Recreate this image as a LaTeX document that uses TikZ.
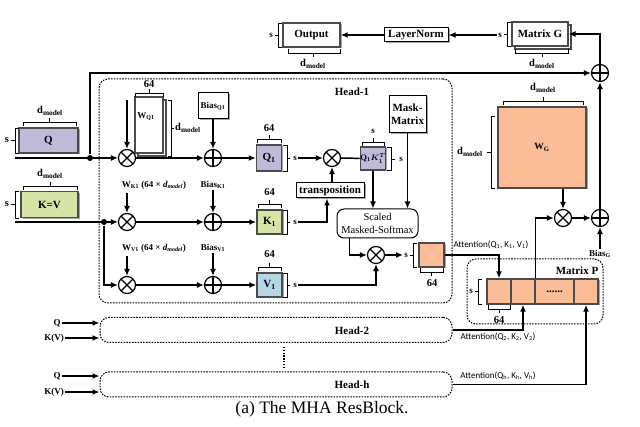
\documentclass[tikz,border=0pt]{standalone}
\usepackage{fontspec}
\usepackage{amsmath}
\setmainfont{Liberation Serif}
\newfontfamily\calibrifont{Carlito}
\usetikzlibrary{arrows.meta}

\definecolor{qfill}{RGB}{190,186,216}
\definecolor{kfill}{RGB}{215,228,168}
\definecolor{vfill}{RGB}{182,214,230}
\definecolor{afill}{RGB}{251,189,151}
\definecolor{matedge}{RGB}{75,75,75}

\newcommand{\dmodel}{d\textsubscript{model}}

\tikzset{every picture/.style={line width=1.5pt}}
\tikzset{
  shade drop/.style={preaction={fill=black, opacity=0.35, transform canvas={shift={(1.5,-1.5)}}}},
  mat/.style={draw=matedge, line width=1.4pt, inner sep=0pt, font=\fontsize{11}{13}\selectfont\bfseries, shade drop},
  stack/.style={draw=matedge, line width=1.2pt, inner sep=0pt, fill=white, font=\fontsize{11}{13}\selectfont\bfseries,
    preaction={draw=matedge, fill=white, line width=1.2pt, transform canvas={shift={(3,-3)}}}},
  lbl/.style={draw, line width=1pt, fill=white, inner sep=0pt, font=\fontsize{11}{13}\selectfont\bfseries, shade drop},
  dim/.style={inner sep=0.5pt, font=\fontsize{10.5}{12}\selectfont\bfseries},
  tiny/.style={inner sep=0.5pt, font=\fontsize{9}{11}\selectfont\bfseries},
  att/.style={inner sep=0.5pt, font=\calibrifont\fontsize{9}{11}\selectfont},
  brk/.style={line width=0.9pt},
  arr/.style={-{Latex[length=7pt,width=6pt]}, line width=1.5pt},
  wire/.style={line width=1.5pt},
  head/.style={draw, dash pattern=on 1.6pt off 1.2pt, line width=1pt, rounded corners=9pt, inner sep=0pt},
  dot/.style={circle, fill, inner sep=0pt, minimum size=6pt},
  mult/.style={circle, draw, line width=1.2pt, minimum size=17pt, inner sep=0pt, fill=white,
    path picture={\draw[line width=1.2pt] (path picture bounding box.north west) -- (path picture bounding box.south east)
      (path picture bounding box.north east) -- (path picture bounding box.south west);}},
  plus/.style={circle, draw, line width=1.2pt, minimum size=17pt, inner sep=0pt, fill=white,
    path picture={\draw[line width=1.2pt] (path picture bounding box.north) -- (path picture bounding box.south)
      (path picture bounding box.west) -- (path picture bounding box.east);}},
}

\begin{document}
\begin{tikzpicture}[x=1pt,y=1pt,yscale=-1]
\useasboundingbox (0,0) rectangle (640,427);

% heads
\node[head, minimum width=353pt, minimum height=224pt] (head1) at (275.5,191) {};
\node[head, minimum width=352pt, minimum height=25pt] (head2) at (276,330) {};
\node[head, minimum width=352pt, minimum height=25pt] (headh) at (276,384.5) {};
\node[head, minimum width=136pt, minimum height=65pt] (Pbox) at (535,291.5) {};
\node[font=\fontsize{11}{13}\selectfont\bfseries] (h1lbl) at (352,92) {Head-1};
\node[font=\fontsize{11}{13}\selectfont\bfseries] (h2lbl) at (352,331) {Head-2};
\node[font=\fontsize{11}{13}\selectfont\bfseries] (hhlbl) at (352,385) {Head-h};
\node[font=\fontsize{11}{13}\selectfont\bfseries] (Plbl) at (577,271) {Matrix P};

% inputs
\node[mat, fill=qfill, minimum width=59pt, minimum height=25pt] (Qin) at (48.5,140.5) {Q};
\node[mat, fill=kfill, minimum width=57pt, minimum height=26pt] (KVin) at (49.5,204.5) {K=V};
\node[dim] (dQin) at (50,111) {\dmodel};
\node[dim] (sQin) at (7,140.5) {s};
\node[dim] (dKVin) at (50,174) {\dmodel};
\node[dim] (sKVin) at (7,204.5) {s};

% weights and biases
\node[stack, minimum width=28pt, minimum height=56pt] (WQ) at (149,125) {};
\node[tiny] (WQlbl) at (146,117) {W\textsubscript{Q1}};
\node[dim] (nWQ) at (149,84) {64};
\node[dim] (dWQ) at (188,128) {\dmodel};
\node[lbl, minimum width=30pt, minimum height=26pt, font=\fontsize{9}{11}\selectfont\bfseries] (biasQ) at (213,106) {Bias\textsubscript{Q1}};
\node[tiny] (WKlbl) at (154,185) {W\textsubscript{K1} (64 × \textit{\dmodel})};
\node[tiny] (biasK) at (213,185) {Bias\textsubscript{K1}};
\node[tiny] (WVlbl) at (154,248) {W\textsubscript{V1} (64 × \textit{\dmodel})};
\node[tiny] (biasV) at (213,248) {Bias\textsubscript{V1}};
\coordinate (WQin) at (127,100);
\coordinate (WKin) at (127,193);
\coordinate (WVin) at (127,256);

% operators
\node[mult] (mulQ) at (127,158) {};
\node[mult] (mulK) at (127,222) {};
\node[mult] (mulV) at (127,285) {};
\node[plus] (addQ) at (213,158) {};
\node[plus] (addK) at (213,222) {};
\node[plus] (addV) at (213,285) {};
\node[mult] (mulQK) at (332,158) {};
\node[mult] (mulA) at (376,255) {};
\node[mult] (mulG) at (563,218) {};
\node[plus] (addG) at (600,218) {};
\node[plus] (addR) at (600,73) {};

% projections
\node[mat, fill=qfill, minimum width=25pt, minimum height=26pt] (Q1) at (269,158) {Q\textsubscript{1}};
\node[mat, fill=kfill, minimum width=25pt, minimum height=24pt] (K1) at (269.5,222) {K\textsubscript{1}};
\node[mat, fill=vfill, minimum width=25pt, minimum height=24pt] (V1) at (269.5,285) {V\textsubscript{1}};
\node[dim] (nQ1) at (269,128) {64};
\node[dim] (nK1) at (269.5,192) {64};
\node[dim] (nV1) at (269.5,254) {64};
\node[tiny] (sQ1) at (295,158) {s};
\node[tiny] (sK1) at (295,222) {s};
\node[tiny] (sV1) at (295,285) {s};

% attention
\node[mat, fill=qfill, minimum width=24pt, minimum height=23pt, font=\fontsize{8.5}{10}\selectfont\bfseries] (QK) at (373,158.5) {Q\textsubscript{1}$\boldsymbol{K_1^T}$};
\node[tiny] (sQKt) at (373,131) {s};
\node[tiny] (sQKr) at (401,159) {s};
\node[lbl, minimum width=68pt, minimum height=15pt] (trans) at (330,190.5) {transposition};
\node[lbl, minimum width=37pt, minimum height=37pt, align=center] (mask) at (407.5,114.5) {Mask-\\Matrix};
\node[draw, line width=1pt, rounded corners=7pt, minimum width=81pt, minimum height=29pt, inner sep=0pt, align=center,
  font=\fontsize{10.5}{12.5}\selectfont] (smax) at (377.5,223.5) {Scaled\\Masked-Softmax};
\node[mat, fill=afill, minimum width=25pt, minimum height=24pt] (attn) at (431.5,255) {};
\node[tiny] (sA) at (406,255) {s};
\node[dim] (nA) at (432,283) {64};
\node[att] (attl1) at (491,245) {Attention(Q\textsubscript{1}, K\textsubscript{1}, V\textsubscript{1})};

% matrix P
\node[mat, fill=afill, minimum width=24pt, minimum height=25pt] (P1) at (499,291.5) {};
\node[mat, fill=afill, minimum width=24pt, minimum height=25pt] (P2) at (523,291.5) {};
\node[mat, fill=afill, minimum width=39pt, minimum height=25pt] (P3) at (554.5,291.5) {......};
\node[mat, fill=afill, minimum width=24pt, minimum height=25pt] (P4) at (586,291.5) {};
\node[tiny] (sP) at (471,291.5) {s};
\node[dim] (nP) at (499,320) {64};
\node[att] (attl2) at (498,337) {Attention(Q\textsubscript{2}, K\textsubscript{2}, V\textsubscript{2})};
\node[att] (attlh) at (498,376) {Attention(Q\textsubscript{h}, K\textsubscript{h}, V\textsubscript{h})};

% output side
\node[mat, fill=afill, minimum width=88pt, minimum height=81pt, font=\fontsize{9.5}{11}\selectfont\bfseries] (WG) at (542,147.5) {W\textsubscript{G}};
\node[dim] (dWGt) at (543,88) {\dmodel};
\node[dim] (dWGl) at (470,152) {\dmodel};
\node[tiny] (biasG) at (600,254) {Bias\textsubscript{G}};
\node[stack, minimum width=56pt, minimum height=24pt] (MatG) at (540,34) {Matrix G};
\node[tiny] (sG) at (500,35) {s};
\node[dim] (dG) at (542,64) {\dmodel};
\node[lbl, minimum width=64pt, minimum height=14pt] (LN) at (416,35) {LayerNorm};
\node[mat, fill=white, minimum width=57pt, minimum height=24pt] (Out) at (311.5,35) {Output};
\node[tiny] (sOut) at (271,35) {s};
\node[dim] (dOut) at (313,64) {\dmodel};

% other heads
\node[tiny] (q2) at (57,323) {Q};
\node[tiny] (kv2) at (54,338) {K(V)};
\node[tiny] (qh) at (57,376) {Q};
\node[tiny] (kvh) at (54,392) {K(V)};

% wires
\coordinate (Qstart) at (15,158);
\coordinate (Kstart) at (15,222);
\draw[arr] (Qstart) -- (mulQ);
\draw[arr] (Kstart) -- (mulK);
\node[dot] (qdot) at (90,158) {};
\node[dot] (kdot) at (104,222) {};
\draw[arr] (kdot) |- (mulV);
\draw[arr] (qdot) |- (addR);
\draw[arr] (WQin) -- (mulQ);
\draw[arr] (WKin) -- (mulK);
\draw[arr] (WVin) -- (mulV);
\draw[arr] (biasQ) -- (addQ);
\draw[arr] (biasK) -- (addK);
\draw[arr] (biasV) -- (addV);
\draw[arr] (mulQ) -- (addQ);
\draw[arr] (mulK) -- (addK);
\draw[arr] (mulV) -- (addV);
\draw[arr] (addQ) -- (Q1);
\draw[arr] (addK) -- (K1);
\draw[arr] (addV) -- (V1);
\draw[arr] (sQ1) -- (mulQK);
\draw[wire] (mulQK) -- (QK);
\draw[arr] (sK1) -| ([xshift=-3pt]trans.south);
\draw[arr] (trans.north -| mulQK) -- (mulQK);
\draw[arr] (QK) -- (QK |- smax.north);
\draw[arr] (mask) -- (mask |- smax.north);
\draw[arr] ([xshift=13pt]smax.south west) |- (mulA);
\draw[arr] (sV1) -| (mulA);
\draw[arr] (mulA) -- (sA);
\draw[arr] (attn) -| (P1);
\draw[arr] (head2.east) -| (P2);
\draw[arr] (headh.east) -| (P4);
\draw[arr] (P2.north east) |- (mulG);
\draw[arr] (mulG |- WG.south) -- (mulG);
\draw[arr] (mulG) -- (addG);
\draw[arr] (biasG) -- (addG);
\draw[arr] (addG) -- (addR);
\draw[arr] (addR) |- (MatG);
\draw[arr] (sG) -- (LN);
\draw[arr] (LN) -- (Out);
\draw[arr] (q2) -- (q2 -| head2.west);
\draw[arr] (kv2) -- (kv2 -| head2.west);
\draw[arr] (qh) -- (qh -| headh.west);
\draw[arr] (kvh) -- (kvh -| headh.west);
\draw[line width=1.5pt, dash pattern=on 1.5pt off 1.3pt] (284,347) -- (284,367);

% dimension brackets
\draw[brk] (23,126) |- (76,122) -- (76,126) (49.5,122) -- (49.5,118);
\draw[brk] (19,128) -| (15,153) -- (19,153) (15,140.5) -- (11,140.5);
\draw[brk] (23,190) |- (77,186) -- (77,190) (50,186) -- (50,182);
\draw[brk] (19,191) -| (15,218) -- (19,218) (15,204.5) -- (11,204.5);
\draw[brk] (135,97) |- (163,93) -- (163,97) (149,93) -- (149,89);
\draw[brk] (168,100) -| (171,156) -- (168,156) (171,128) -- (174,128);
\draw[brk] (257,143) |- (281,139) -- (281,143) (269,139) -- (269,135);
\draw[brk] (283,145) -| (287,171) -- (283,171) (287,158) -- (290,158);
\draw[brk] (258,208) |- (281,204) -- (281,208) (269.5,204) -- (269.5,200);
\draw[brk] (283,210) -| (287,234) -- (283,234) (287,222) -- (290,222);
\draw[brk] (258,271) |- (281,267) -- (281,271) (269.5,267) -- (269.5,263);
\draw[brk] (283,273) -| (287,297) -- (283,297) (287,285) -- (290,285);
\draw[brk] (362,146) |- (384,142) -- (384,146) (373,142) -- (373,138);
\draw[brk] (387,147) -| (391,170) -- (387,170) (391,159) -- (395,159);
\draw[brk] (417,243) -| (413,267) -- (417,267) (413,255) -- (410,255);
\draw[brk] (420,268) |- (443,272) -- (443,268) (431.5,272) -- (431.5,276);
\draw[brk] (482,279) -| (478,304) -- (482,304) (478,291.5) -- (475,291.5);
\draw[brk] (488,305) |- (510,309) -- (510,305) (499,309) -- (499,313);
\draw[brk] (503,105) |- (583,101) -- (583,105) (543,101) -- (543,97);
\draw[brk] (495,116) -| (491,188) -- (495,188) (491,152) -- (487,152);
\draw[brk] (511,22) -| (507,46) -- (511,46) (507,34) -- (504,34);
\draw[brk] (515,49) |- (568,53) -- (568,49) (542,53) -- (542,57);
\draw[brk] (282,23) -| (278,47) -- (282,47) (278,35) -- (275,35);
\draw[brk] (288,49) |- (340,53) -- (340,49) (313,53) -- (313,57);

% caption
\node[font=\fontsize{17.5}{20}\selectfont] (cap) at (322,409) {(a) The MHA ResBlock.};
\end{tikzpicture}
\end{document}
